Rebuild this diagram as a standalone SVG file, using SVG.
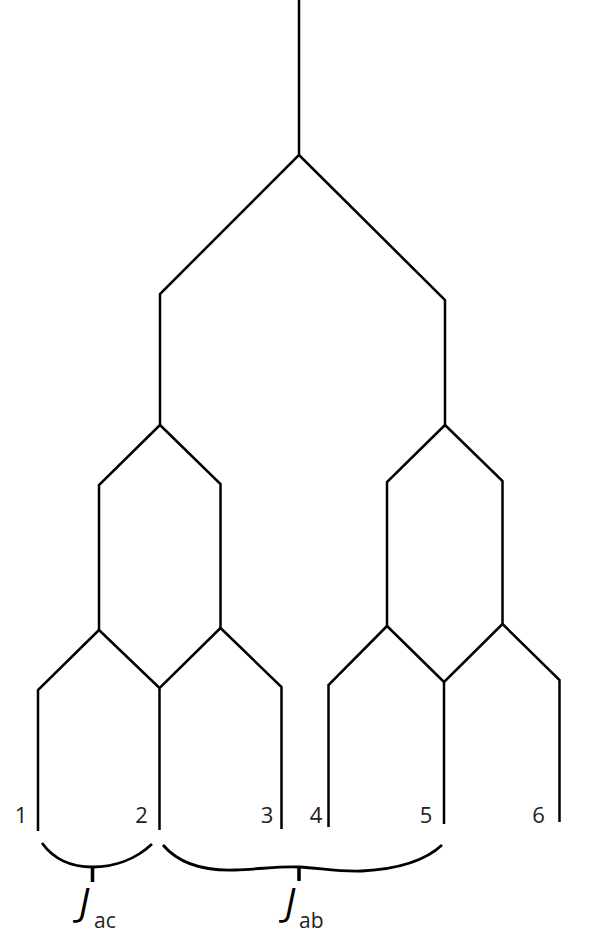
<svg xmlns="http://www.w3.org/2000/svg" width="608" height="947" viewBox="0 0 608 947">
<style>
.t{fill:none;stroke:#000;stroke-width:2.5;stroke-linejoin:miter;stroke-linecap:butt}
.b{fill:none;stroke:#000;stroke-width:2.8;stroke-linecap:butt}
.k{fill:none;stroke:#000;stroke-width:3.6}
.n{font-family:"Open Sans","Noto Sans",sans-serif;font-size:22px;fill:#222;text-anchor:middle}
.J{font-family:"Open Sans","Noto Sans",sans-serif;font-style:italic;font-size:38px;fill:#000}
.s{font-family:"Open Sans","Noto Sans",sans-serif;font-size:21px;fill:#222}
</style>
<rect width="608" height="947" fill="#fff"/>
<g id="connectors">
<path class="t" d="M299,0 V155 L160,294 V425 M299,155 L445,300 V425"/>
<path class="t" d="M160,425 L99,485 V630 M160,425 L220.5,484 V628"/>
<path class="t" d="M99,630 L38,690 V831 M99,630 L159.5,688 M220.5,628 L159.5,688 V830 M220.5,628 L281.5,687 V829"/>
<path class="t" d="M445,425 L387,482 V626 M445,425 L502.5,481 V624"/>
<path class="t" d="M387,626 L328.5,685 V827 M387,626 L444,682 M502.5,624 L444,682 V824 M502.5,624 L559.5,680 V822"/>
</g>
<g id="leaf1"><text class="n" x="21" y="823">1</text></g>
<g id="leaf2"><text class="n" x="141.5" y="823">2</text></g>
<g id="leaf3"><text class="n" x="267" y="823">3</text></g>
<g id="leaf4"><text class="n" x="316" y="823">4</text></g>
<g id="leaf5"><text class="n" x="426" y="823">5</text></g>
<g id="leaf6"><text class="n" x="538.5" y="822.5">6</text></g>
<g id="brace-ac">
<path class="b" d="M42,843 C55,861 74,867 92.5,867 C113,867 135,860 152,844"/>
<path class="k" d="M92.5,866 V882"/>
<text class="J" x="79" y="916">J</text>
<text class="s" x="94" y="928">ac</text>
</g>
<g id="brace-ab">
<path class="b" d="M163,845 C180,865 205,871 235,870 C262,869 280,866 299,867 C320,868 338,872 362,871 C400,869 426,860 442,845"/>
<path class="k" d="M299,866 V881"/>
<text class="J" x="285" y="916">J</text>
<text class="s" x="299" y="928">ab</text>
</g>
</svg>
